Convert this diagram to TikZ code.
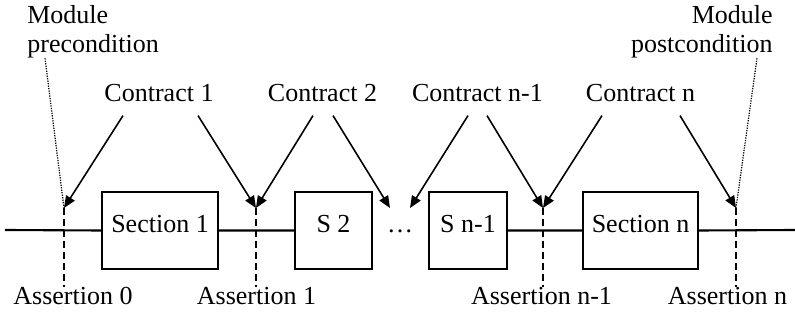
\documentclass[tikz,border=0pt]{standalone}
\usepackage{fontspec}
\setmainfont{Liberation Serif}
\usetikzlibrary{arrows.meta,calc}

\tikzset{
  section/.style={draw, line width=1.2pt, inner sep=0pt, text height=0.82cm, text depth=0.72cm},
  contract/.style={-{Triangle[length=0.24cm,width=0.2cm]}, line width=0.9pt},
  assertion/.style={dash pattern=on 0.14cm off 0.08cm, line width=0.7pt},
  pointer/.style={dash pattern=on 0.025cm off 0.025cm, line width=0.7pt},
  caption/.style={inner sep=0pt, anchor=base}
}

\begin{document}
\begin{tikzpicture}[x=0.02cm, y=-0.02cm, font=\fontsize{14.8}{16.5}\selectfont]
\useasboundingbox (0,0) rectangle (795,320);
% The sections of the module, in a row
\node[section, minimum width=2.32cm] (s1) at (160,230.5) {Section 1};
\node[section, minimum width=1.54cm] (s2) at (333.5,230.5) {S 2};
\node[section, minimum width=1.56cm] (sn1) at (468,230.5) {S n-1};
\node[section, minimum width=2.3cm] (sn) at (640.5,230.5) {Section n};
\node[caption] (dots) at (400,233) {\dots};
% Flow through the module
\coordinate (in) at (5,230);
\coordinate (out) at (795,230);
\draw[line width=1.2pt] (in) -- (s1.west) (s1.east) -- (s2.west)
  (sn1.east) -- (sn.west) (sn.east) -- (out);
% Assertions between the sections
\coordinate (a0) at (64,208);
\coordinate (a1) at (256,208);
\coordinate (an1) at (543,208);
\coordinate (an) at (736,208);
\foreach \p in {a0,a1,an1,an}
  \draw[assertion] (\p) -- ++(0,79);
\node[caption] (l0) at (73,305) {Assertion 0};
\node[caption] (l1) at (256.5,305) {Assertion 1};
\node[caption] (ln1) at (541.5,305) {Assertion n-1};
\node[caption] (ln) at (727.5,305) {Assertion n};
% Module pre- and postcondition
\node[inner sep=0pt, anchor=north west, align=left] (pre) at (27,5) {Module\\precondition};
\node[inner sep=0pt, anchor=north east, align=right] (post) at (773,5) {Module\\postcondition};
\draw[pointer] ($(pre.south west)+(18,0)$) -- (a0);
\draw[pointer] ($(post.south east)+(-16,0)$) -- (an);
% Contracts, each one pointing at the two assertions round a section
\node[caption] (c1) at (159,102) {Contract 1};
\node[caption] (c2) at (322.5,102) {Contract 2};
\node[caption] (cn1) at (477.5,102) {Contract n-1};
\node[caption] (cn) at (640.5,102) {Contract n};
\coordinate (gapl) at (390,208);
\coordinate (gapr) at (410,208);
\draw[contract] ($(c1.south)+(-36,13)$) -- (a0);
\draw[contract] ($(c1.south)+(39,13)$) -- (a1);
\draw[contract] ($(c2.south)+(-9.5,13)$) -- (a1);
\draw[contract] ($(c2.south)+(10.5,13)$) -- (gapl);
\draw[contract] ($(cn1.south)+(-9.5,13)$) -- (gapr);
\draw[contract] ($(cn1.south)+(9.5,13)$) -- (an1);
\draw[contract] ($(cn.south)+(-38.5,13)$) -- (an1);
\draw[contract] ($(cn.south)+(39.5,13)$) -- (an);
\end{tikzpicture}
\end{document}
